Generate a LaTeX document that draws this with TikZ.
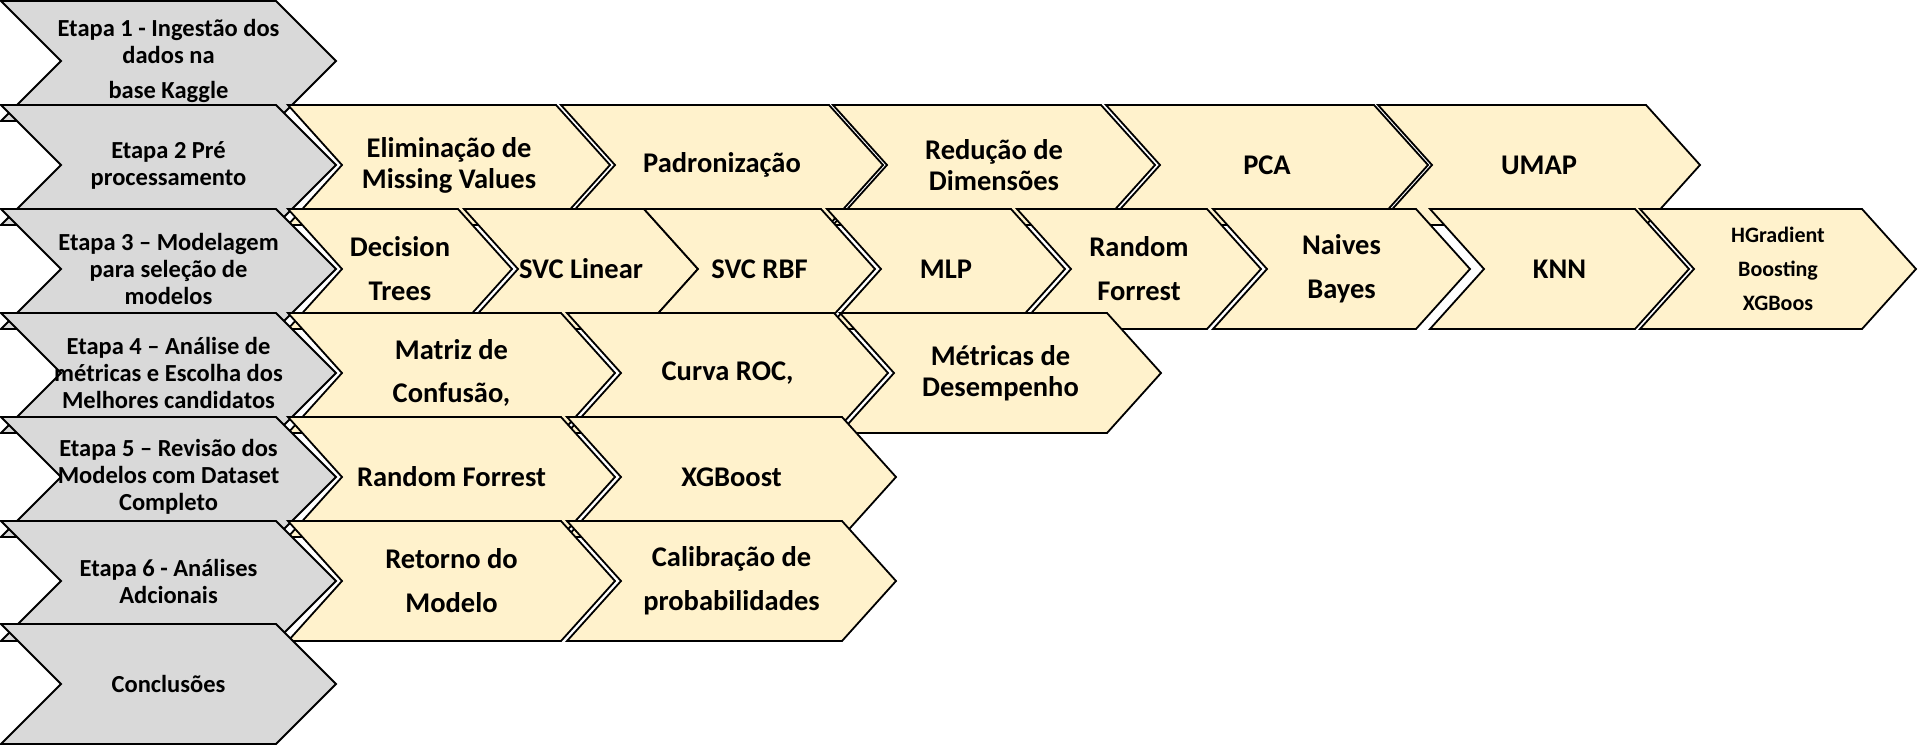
\documentclass[tikz,border=0pt]{standalone}
\usepackage{fontspec}
\setmainfont{Carlito}
\usepackage{tikz}
\definecolor{etapagrey}{HTML}{D9D9D9}
\definecolor{passoyellow}{HTML}{FFF2CC}
\tikzstyle{etapa}    = [draw=black,line width=1.8pt,fill=etapagrey]
\tikzstyle{passo}    = [draw=black,line width=1.8pt,fill=passoyellow]
\tikzstyle{etapatxt} = [align=center,inner sep=0pt,font=\bfseries\fontsize{24.5}{27}\selectfont]
\tikzstyle{passotxt} = [align=center,inner sep=0pt,font=\bfseries\fontsize{28.5}{31}\selectfont]
\tikzstyle{smalltxt} = [align=center,inner sep=0pt,font=\bfseries\fontsize{22}{34}\selectfont]
\newcommand{\chevshape}[8]{%
  \draw[#1](#3,#4-60)--++(#5,0)--++(#6,60)--++(-#6,60)--++(-#5,0)--++(#6,-60)--cycle;
  \node[#7](#2)at({#3+(#5+#6)/2},#4){#8};}

\begin{document}
\begin{tikzpicture}[x=1pt,y=-1pt]
          \useasboundingbox (0,0) rectangle (1918,745);
          \chevshape{etapa}{e1}{1}{61}{275}{60}{etapatxt}{Etapa 1 - Ingestão dos\\dados na\\[8pt]base Kaggle}
          \chevshape{etapa}{e2}{1}{165}{275}{60}{etapatxt}{Etapa 2 Pré\\processamento}
          \chevshape{passo}{elim}{288}{165}{268}{54}{passotxt}{Eliminação de\\Missing Values}
          \chevshape{passo}{padr}{561}{165}{268}{54}{passotxt}{Padronização}
          \chevshape{passo}{redu}{833}{165}{268}{54}{passotxt}{Redução de\\Dimensões}
          \chevshape{passo}{pca}{1106}{165}{268}{54}{passotxt}{PCA}
          \chevshape{passo}{umap}{1378}{165}{268}{54}{passotxt}{UMAP}
          \chevshape{etapa}{e3}{1}{269}{275}{60}{etapatxt}{Etapa 3 -- Modelagem\\para seleção de\\modelos}
          \chevshape{passo}{dtree}{288}{269}{170}{54}{passotxt}{Decision\\[13pt]Trees}
          \chevshape{passo}{svclin}{464}{269}{180}{54}{passotxt}{SVC Linear}
          \chevshape{passo}{svcrbf}{644}{269}{177}{54}{passotxt}{SVC RBF}
          \chevshape{passo}{mlp}{827}{269}{184}{54}{passotxt}{MLP}
          \chevshape{passo}{rforest}{1017}{269}{190}{54}{passotxt}{Random\\[13pt]Forrest}
          \chevshape{passo}{naives}{1213}{269}{203}{54}{passotxt}{Naives\\[13pt]Bayes}
          \chevshape{passo}{knn}{1430}{269}{205}{54}{passotxt}{KNN}
          \chevshape{passo}{hgrad}{1640}{269}{222}{54}{smalltxt}{HGradient\\Boosting\\XGBoos}
          \chevshape{etapa}{e4}{1}{373}{275}{60}{etapatxt}{Etapa 4 -- Análise de\\métricas e Escolha dos\\Melhores candidatos}
          \chevshape{passo}{matriz}{288}{373}{273}{54}{passotxt}{Matriz de\\[12pt]Confusão,}
          \chevshape{passo}{roc}{567}{373}{267}{54}{passotxt}{Curva ROC,}
          \chevshape{passo}{metricas}{840}{373}{267}{54}{passotxt}{Métricas de\\Desempenho}
          \chevshape{etapa}{e5}{1}{477}{275}{60}{etapatxt}{Etapa 5 -- Revisão dos\\Modelos com Dataset\\Completo}
          \chevshape{passo}{rfcomp}{288}{477}{273}{54}{passotxt}{Random Forrest}
          \chevshape{passo}{xgb}{567}{477}{275}{54}{passotxt}{XGBoost}
          \chevshape{etapa}{e6}{1}{581}{275}{60}{etapatxt}{Etapa 6 - Análises\\Adcionais}
          \chevshape{passo}{retorno}{288}{581}{273}{54}{passotxt}{Retorno do\\[13pt]Modelo}
          \chevshape{passo}{calib}{567}{581}{275}{54}{passotxt}{Calibração de\\[13pt]probabilidades}
          \chevshape{etapa}{concl}{1}{684}{275}{60}{etapatxt}{Conclusões}
      \end{tikzpicture}
\end{document}
